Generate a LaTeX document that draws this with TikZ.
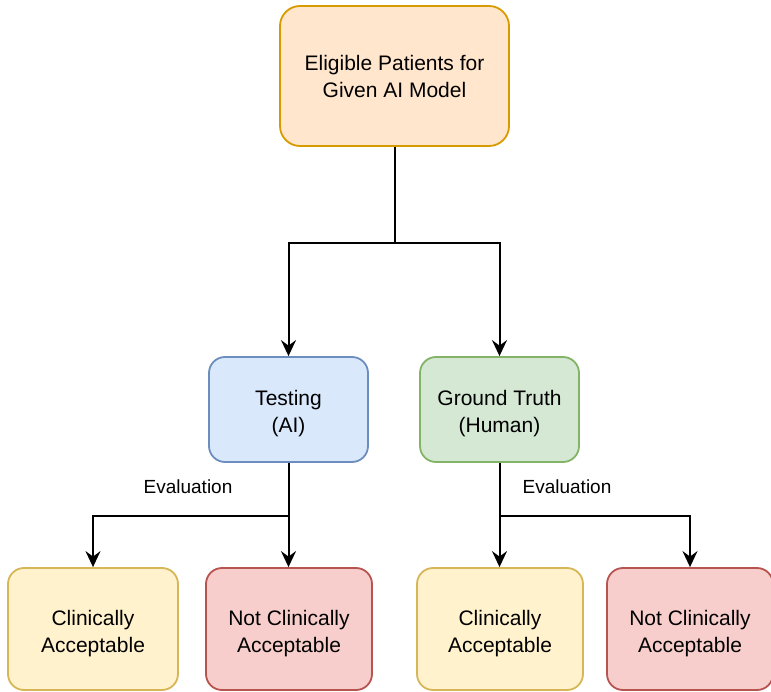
\documentclass[tikz,border=0pt]{standalone}
\usepackage{fontspec}
\setmainfont{Liberation Sans}
\usetikzlibrary{arrows.meta}

\definecolor{orangefill}{HTML}{FFE6CC}
\definecolor{orangeline}{HTML}{D79B00}
\definecolor{bluefill}{HTML}{DAE8FC}
\definecolor{blueline}{HTML}{6C8EBF}
\definecolor{greenfill}{HTML}{D5E8D4}
\definecolor{greenline}{HTML}{82B366}
\definecolor{yellowfill}{HTML}{FFF2CC}
\definecolor{yellowline}{HTML}{D6B656}
\definecolor{redfill}{HTML}{F8CECC}
\definecolor{redline}{HTML}{B85450}

\begin{document}
\begin{tikzpicture}[x=1pt, y=-1pt,
  box/.style={draw, line width=1.8pt, rounded corners=16pt, align=center,
    inner sep=0pt, font=\fontsize{21}{27}\selectfont},
  topbox/.style={box, fill=orangefill, draw=orangeline,
    minimum width=229pt, minimum height=140pt, rounded corners=20pt},
  lowtext/.style={execute at begin node={\rule{0pt}{51pt}}},
  midbox/.style={box, lowtext, minimum width=159pt, minimum height=105pt},
  leafbox/.style={box, lowtext, minimum width=168pt, minimum height=122pt},
  conn/.style={line width=2pt, -{Stealth[length=16pt, width=15pt, inset=5.5pt]}},
  lbl/.style={font=\fontsize{19}{22}\selectfont, inner sep=0pt}]

\clip (0,0) rectangle (771,692);

% nodes
\node[topbox] (top) at (394.5,76) {Eligible Patients for\\Given AI Model};

\node[midbox, fill=bluefill, draw=blueline] (test) at (288.5,409.5) {Testing\\(AI)};
\node[midbox, fill=greenfill, draw=greenline] (gt) at (499.5,409.5) {Ground Truth\\(Human)};

\node[leafbox, fill=yellowfill, draw=yellowline, minimum width=170pt] (ca1) at (93,629) {Clinically\\Acceptable};
\node[leafbox, fill=redfill, draw=redline, minimum width=166pt] (nca1) at (289,629) {Not Clinically\\Acceptable};
\node[leafbox, fill=yellowfill, draw=yellowline, minimum width=166pt] (ca2) at (500,629) {Clinically\\Acceptable};
\node[leafbox, fill=redfill, draw=redline, minimum width=166pt] (nca2) at (690,629) {Not Clinically\\Acceptable};

% split from the patient pool
\draw[conn] (top.south) -- ++(0,96) -| (test.north);
\draw[conn] (top.south) -- ++(0,96) -| (gt.north);

% evaluation branches
\draw[conn] (test.south) -- ++(0,53) -| (ca1.north);
\draw[conn] (test.south) -- (test.south |- nca1.north);
\draw[conn] (gt.south) -- ++(0,53) -| (nca2.north);
\draw[conn] (gt.south) -- (gt.south |- ca2.north);

% labels
\node[lbl] (ev1) at (188,487) {Evaluation};
\node[lbl] (ev2) at (567,487) {Evaluation};

\end{tikzpicture}
\end{document}
